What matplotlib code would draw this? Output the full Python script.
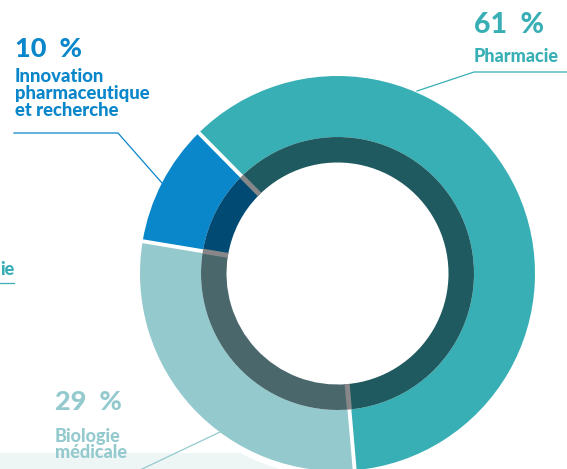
import matplotlib
matplotlib.use("Agg")
import matplotlib.pyplot as plt
import numpy as np
from matplotlib.patches import Rectangle, Circle

# ---- data ----
categories = ["Pharmacie", "Innovation pharmaceutique\net recherche", "Biologie médicale"]
values = [61, 10, 29]
pct_labels = ["61 %", "10 %", "29 %"]
outer_colors = ["#38AFB5", "#0A86CA", "#94CACE"]
inner_colors = ["#1E5A60", "#004A73", "#4A686C"]
label_colors = ["#38AFB5", "#0A86CA", "#94CACE"]

W, H = 567, 469
fig = plt.figure(figsize=(W / 100, H / 100), dpi=100)
ax = fig.add_axes([0, 0, 1, 1])


def Y(y):
    return H - y


cx, cy = 337.5, Y(273.5)
R_out, R_mid, R_in = 197.5, 136.5, 111.0
start = -85

# bottom light band
ax.add_patch(Rectangle((0, Y(469)), 337, 16, facecolor="#EDF5F5", edgecolor="none", zorder=0))
# white halo around donut
ax.add_patch(Circle((cx, cy), 204, facecolor="white", edgecolor="none", zorder=1))

ax.pie(values, colors=outer_colors, radius=R_out, center=(cx, cy), startangle=start,
       counterclock=True, wedgeprops=dict(width=R_out - R_mid, edgecolor="none"), frame=True)
ax.pie(values, colors=inner_colors, radius=R_mid, center=(cx, cy), startangle=start,
       counterclock=True, wedgeprops=dict(width=R_mid - R_in, edgecolor="none"), frame=True)

cum = np.concatenate([[0], np.cumsum(values)])
for c in cum[:-1]:
    a = np.deg2rad(start + 360 * c / sum(values))
    ax.plot([cx + (R_mid - 0.5) * np.cos(a), cx + (R_out + 2) * np.cos(a)],
            [cy + (R_mid - 0.5) * np.sin(a), cy + (R_out + 2) * np.sin(a)],
            color="white", lw=2.8, solid_capstyle="butt", zorder=5)
    ax.plot([cx + R_in * np.cos(a), cx + R_mid * np.cos(a)],
            [cy + R_in * np.sin(a), cy + R_mid * np.sin(a)],
            color="#87878A", lw=3.6, solid_capstyle="butt", zorder=5)

font = "Lato"
wt = "black"
# Pharmacie label
ax.text(474, Y(33), pct_labels[0].replace(" ", "  "), color=label_colors[0], fontsize=20.5,
        fontweight=wt, family=font, ha="left", va="baseline")
ax.text(474, Y(62), categories[0], color=label_colors[0], fontsize=13, fontweight=wt,
        family=font, ha="left", va="baseline")
ax.plot([567, 474, 417], [Y(72), Y(72), Y(91)], color=label_colors[0], lw=0.9, zorder=6)

# Innovation label
ax.text(15, Y(57), pct_labels[1].replace(" ", "  "), color=label_colors[1], fontsize=19.5,
        fontweight=wt, family=font, ha="left", va="baseline")
ax.text(15, Y(82), "Innovation", color=label_colors[1], fontsize=13.3, fontweight=wt,
        family=font, ha="left", va="baseline")
ax.text(15, Y(99), "pharmaceutique", color=label_colors[1], fontsize=13.3, fontweight=wt,
        family=font, ha="left", va="baseline")
ax.text(15, Y(116), "et recherche", color=label_colors[1], fontsize=13.3, fontweight=wt,
        family=font, ha="left", va="baseline")
ax.plot([14, 118, 162], [Y(133), Y(133), Y(183)], color=label_colors[1], lw=0.9, zorder=6)

# Biologie label
ax.text(55, Y(410), pct_labels[2].replace(" ", "  "), color=label_colors[2], fontsize=19.5,
        fontweight=wt, family=font, ha="left", va="baseline")
ax.text(55, Y(442), "Biologie", color=label_colors[2], fontsize=13, fontweight=wt,
        family=font, ha="left", va="baseline")
ax.text(55, Y(458), "médicale", color=label_colors[2], fontsize=13, fontweight=wt,
        family=font, ha="left", va="baseline")
ax.plot([140, 220], [Y(470), Y(432)], color=label_colors[2], lw=0.9, zorder=6)

# clipped label fragment on the left
ax.text(0, Y(275), "ie", color=label_colors[0], fontsize=13, fontweight=wt,
        family=font, ha="left", va="baseline")
ax.plot([0, 14], [Y(283), Y(283)], color=label_colors[0], lw=0.9)

ax.set_xlim(0, W)
ax.set_ylim(0, H)
ax.set_aspect("auto")
ax.axis("off")
fig.savefig("out.png", dpi=100)
